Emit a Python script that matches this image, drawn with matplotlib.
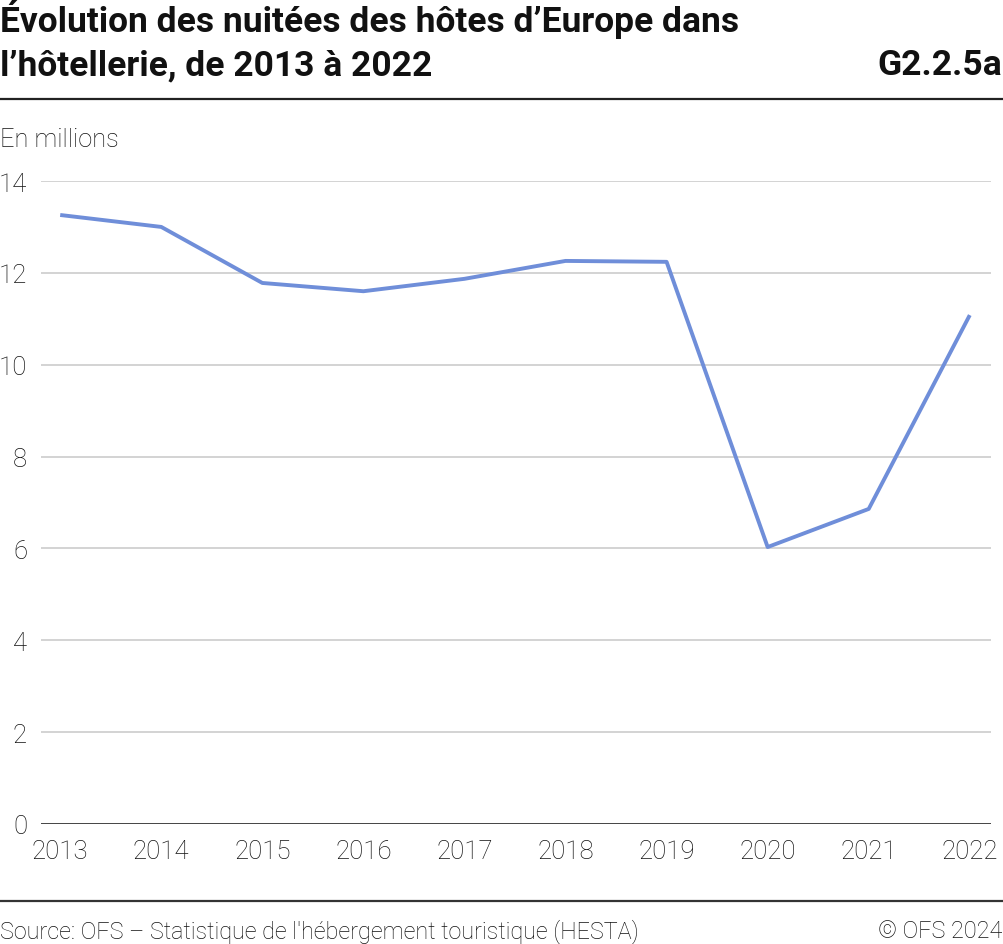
import matplotlib
matplotlib.use("Agg")
import matplotlib.pyplot as plt
from matplotlib.lines import Line2D

years = ["2013", "2014", "2015", "2016", "2017", "2018", "2019", "2020", "2021", "2022"]
values = [13.26, 13.00, 11.78, 11.60, 11.87, 12.26, 12.24, 6.03, 6.86, 11.08]
yticks = [0, 2, 4, 6, 8, 10, 12, 14]

W, H = 1004, 945
fig = plt.figure(figsize=(W / 100, H / 100), dpi=100)
fig.patch.set_facecolor("white")

def fx(px):
    return px / W

def fy(py):
    return 1 - py / H

ax = fig.add_axes([fx(41), fy(825), fx(991) - fx(41), fy(182) - fy(825)])
x = list(range(len(years)))
ax.plot(x, values, color="#6f8ed9", lw=2.8, solid_joinstyle="round", solid_capstyle="butt", zorder=3)
ax.set_xlim(-0.19, 9.21)
ax.set_ylim(0, 14)
ax.set_yticks(yticks)
ax.set_yticklabels([str(v) for v in yticks])
ax.set_xticks(x)
ax.set_xticklabels(years)
for v in yticks:
    if v == 0:
        ax.axhline(v, color="#333333", lw=2.0, zorder=2)
    else:
        ax.axhline(v, color="#d0d0d0", lw=1.3, zorder=1)
for s in ax.spines.values():
    s.set_visible(False)
ax.tick_params(axis="both", length=0, labelsize=18.5, labelcolor="#111111")
ax.tick_params(axis="y", pad=10)
ax.tick_params(axis="x", pad=11)
for lab in ax.get_xticklabels() + ax.get_yticklabels():
    lab.set_family("Roboto")
    lab.set_fontweight("light")

TS = 25.5
fig.text(fx(0), fy(32), "Évolution des nuitées des hôtes d’Europe dans", family="Roboto",
         fontweight="bold", fontsize=TS, color="#111111", va="baseline", ha="left")
fig.text(fx(0), fy(75), "l’hôtellerie, de 2013 à 2022", family="Roboto",
         fontweight="bold", fontsize=TS, color="#111111", va="baseline", ha="left")
fig.text(fx(1002), fy(75), "G2.2.5a", family="Roboto",
         fontweight="bold", fontsize=TS, color="#111111", va="baseline", ha="right")
fig.add_artist(Line2D([0, 1], [fy(100), fy(100)], transform=fig.transFigure, color="#222222", lw=1.6))
fig.text(fx(0), fy(147), "En millions", family="Roboto", fontweight="light",
         fontsize=18.3, color="#111111", va="baseline", ha="left")
fig.add_artist(Line2D([0, 1], [fy(902), fy(902)], transform=fig.transFigure, color="#333333", lw=1.6))
fig.text(fx(0), fy(938), "Source: OFS – Statistique de l'hébergement touristique (HESTA)", family="Roboto",
         fontweight="light", fontsize=16.85, color="#111111", va="baseline", ha="left")
fig.text(fx(1002), fy(938), "© OFS 2024", family="Roboto",
         fontweight="light", fontsize=16.85, color="#111111", va="baseline", ha="right")

fig.savefig("out.png", dpi=100, facecolor="white")
